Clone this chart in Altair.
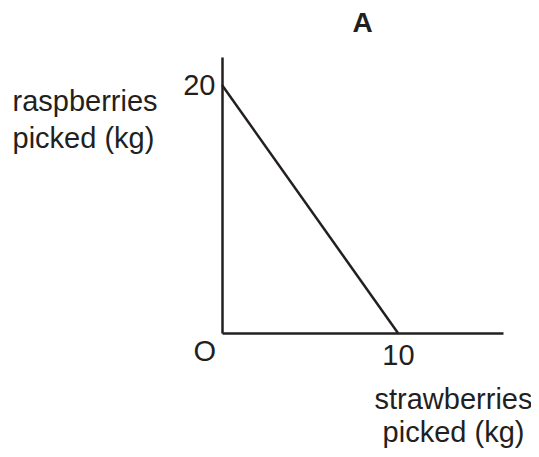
import altair as alt
import pandas as pd

# Data
strawberries = [0, 10]        # kg (x)
raspberries = [20, 0]         # kg (y)
x_ticks = [10]
y_ticks = [20]
origin_label = ["O"]
title_text = "A"
x_title = ["strawberries", "picked (kg)"]
y_title = ["raspberries", "picked (kg)"]

INK = "#231f20"
FONT = "Liberation Sans"

line_df = pd.DataFrame({"strawberries": strawberries, "raspberries": raspberries})
origin_df = pd.DataFrame({"strawberries": [0], "raspberries": [0], "label": origin_label})

x_scale = alt.Scale(domain=[0, 15.97], nice=False, zero=False)
y_scale = alt.Scale(domain=[0, 22.26], nice=False, zero=False)

line = alt.Chart(line_df).mark_line(color=INK, strokeWidth=2.5).encode(
    x=alt.X("strawberries:Q", scale=x_scale,
            axis=alt.Axis(values=x_ticks, title=x_title, labelPadding=8,
                          titleX=231, titleY=75, titleAlign="center",
                          titleBaseline="alphabetic", titleLineHeight=33,
                          titleFontSize=29, titleFontWeight="normal")),
    y=alt.Y("raspberries:Q", scale=y_scale,
            axis=alt.Axis(values=y_ticks, title=y_title, labelPadding=7,
                          titleAngle=0, titleX=-210, titleY=53, titleAlign="left",
                          titleBaseline="alphabetic", titleLineHeight=37,
                          titleFontSize=29, titleFontWeight="normal")),
)

origin = alt.Chart(origin_df).mark_text(
    font=FONT, fontSize=29, color=INK, align="right", baseline="top", dx=-6, dy=5
).encode(x="strawberries:Q", y="raspberries:Q", text="label:N")

chart = (
    alt.layer(line, origin)
    .properties(
        width=281,
        height=276,
        title=alt.TitleParams(title_text, font=FONT, fontSize=28, fontWeight="bold",
                              color=INK, anchor="middle", baseline="bottom", offset=-9),
        autosize=alt.AutoSizeParams(type="none"),
        padding={"left": 214, "top": 49, "right": 28, "bottom": 116},
    )
    .configure_view(stroke=None)
    .configure_axis(
        grid=False, ticks=False, domainColor=INK, domainWidth=2.5,
        labelFont=FONT, labelFontSize=29, labelColor=INK,
        titleFont=FONT, titleColor=INK,
    )
)

chart.save("out.html", embed_options={"renderer": "svg", "actions": False})
